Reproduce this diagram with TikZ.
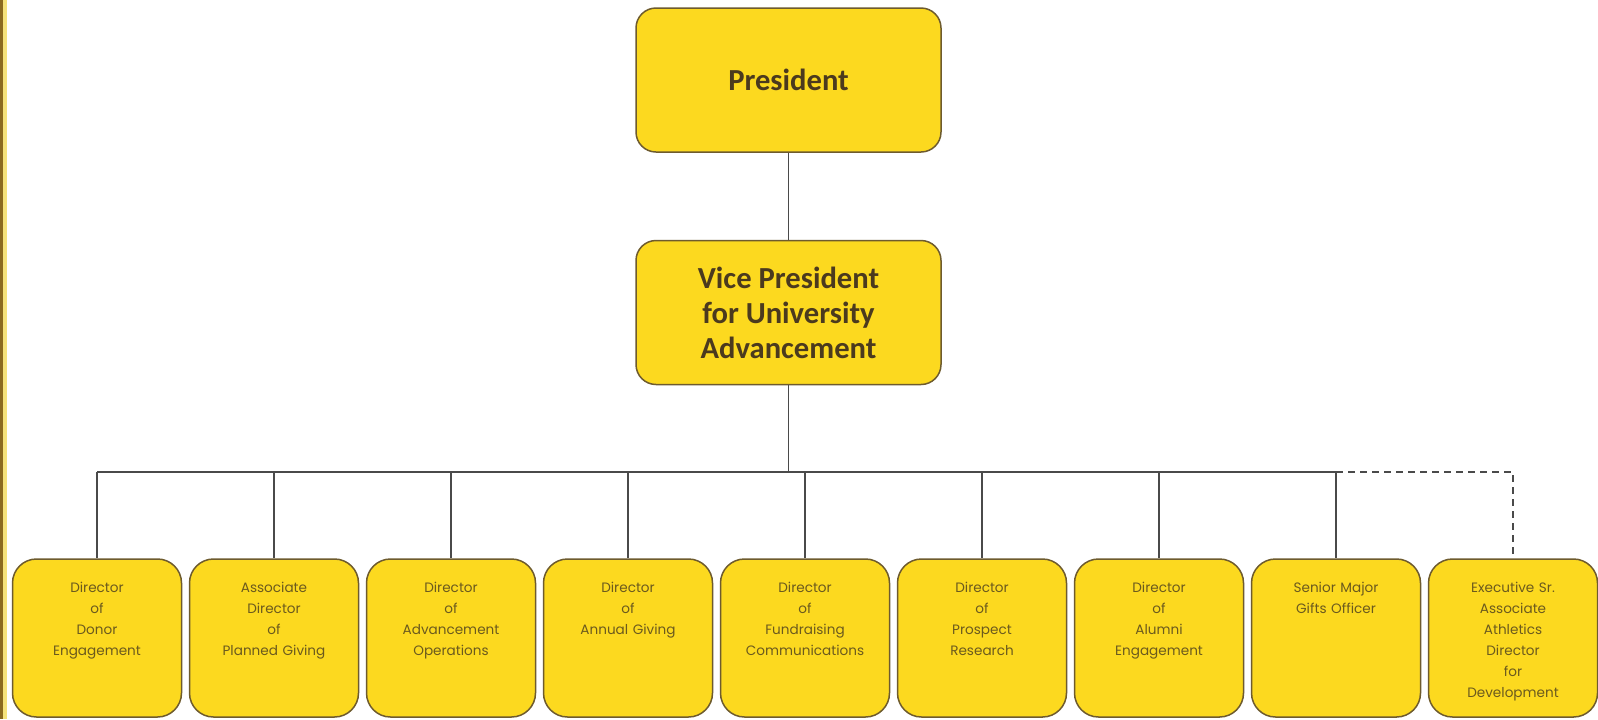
\documentclass[tikz,border=0pt]{standalone}
\usepackage{fontspec}
\setmainfont{Carlito}
\newfontfamily\staff{Poppins}
\usetikzlibrary{positioning}
\definecolor{chartyellow}{HTML}{FCD91F}
\definecolor{chartedge}{HTML}{6E5B2E}
\definecolor{headtext}{HTML}{4B3A1E}
\definecolor{stafftext}{HTML}{6B5A1E}
\definecolor{chartline}{HTML}{4A4A4A}
\definecolor{stripedark}{HTML}{8B6A1E}
\definecolor{stripelight}{HTML}{F5E27A}
\begin{document}
\begin{tikzpicture}[x=0.5pt,y=-0.5pt,node distance=88.5pt,line width=0.75pt]
\tikzstyle{head}=[draw=chartedge,fill=chartyellow,rounded corners=10pt,
  minimum width=152.5pt,minimum height=72pt,align=center,text=headtext,
  font=\fontsize{15.3}{17.5}\selectfont\bfseries]
\tikzstyle{staffbox}=[draw=chartedge,fill=chartyellow,rounded corners=12pt,
  inner sep=0pt,text width=84.5pt,align=center,text height=16.5pt,text depth=62.5pt,
  text=stafftext,font=\staff\fontsize{6.8}{10.5}\selectfont]
\useasboundingbox (0,0) rectangle (1598,719);
\fill[white] (0,0) rectangle (1598,719);
\fill[stripedark] (0,0) rectangle (3,719);
\fill[stripelight] (3,0) rectangle (7,719);
\node[head] (pres) at (788.5,80) {President};
\node[head] (vp) [below of=pres, node distance=116.25pt] {Vice President\\for University\\Advancement};
\node[staffbox] (d1) at (97,638) {Director\\of\\Donor\\Engagement};
\node[staffbox] (d2) [right of=d1] {Associate\\Director\\of\\Planned Giving};
\node[staffbox] (d3) [right of=d2] {Director\\of\\Advancement\\Operations};
\node[staffbox] (d4) [right of=d3] {Director\\of\\Annual Giving};
\node[staffbox] (d5) [right of=d4] {Director\\of\\Fundraising\\Communications};
\node[staffbox] (d6) [right of=d5] {Director\\of\\Prospect\\Research};
\node[staffbox] (d7) [right of=d6] {Director\\of\\Alumni\\Engagement};
\node[staffbox] (d8) [right of=d7] {Senior Major\\Gifts Officer};
\node[staffbox] (d9) [right of=d8] {Executive Sr.\\Associate\\Athletics\\Director\\for\\Development};
\coordinate (bar) at (788.5,472);
\begin{scope}[draw=chartline]
\draw (pres) -- (vp);
\draw (vp) -- (bar);
\draw (d1.north |- bar) -- (d8.north |- bar);
\foreach \n in {1,...,8}
  \draw (d\n.north |- bar) -- (d\n);
\draw[dash pattern=on 3.5pt off 2.5pt] (d8.north |- bar) -- (d9.north |- bar) -- (d9);
\end{scope}
\end{tikzpicture}
\end{document}
